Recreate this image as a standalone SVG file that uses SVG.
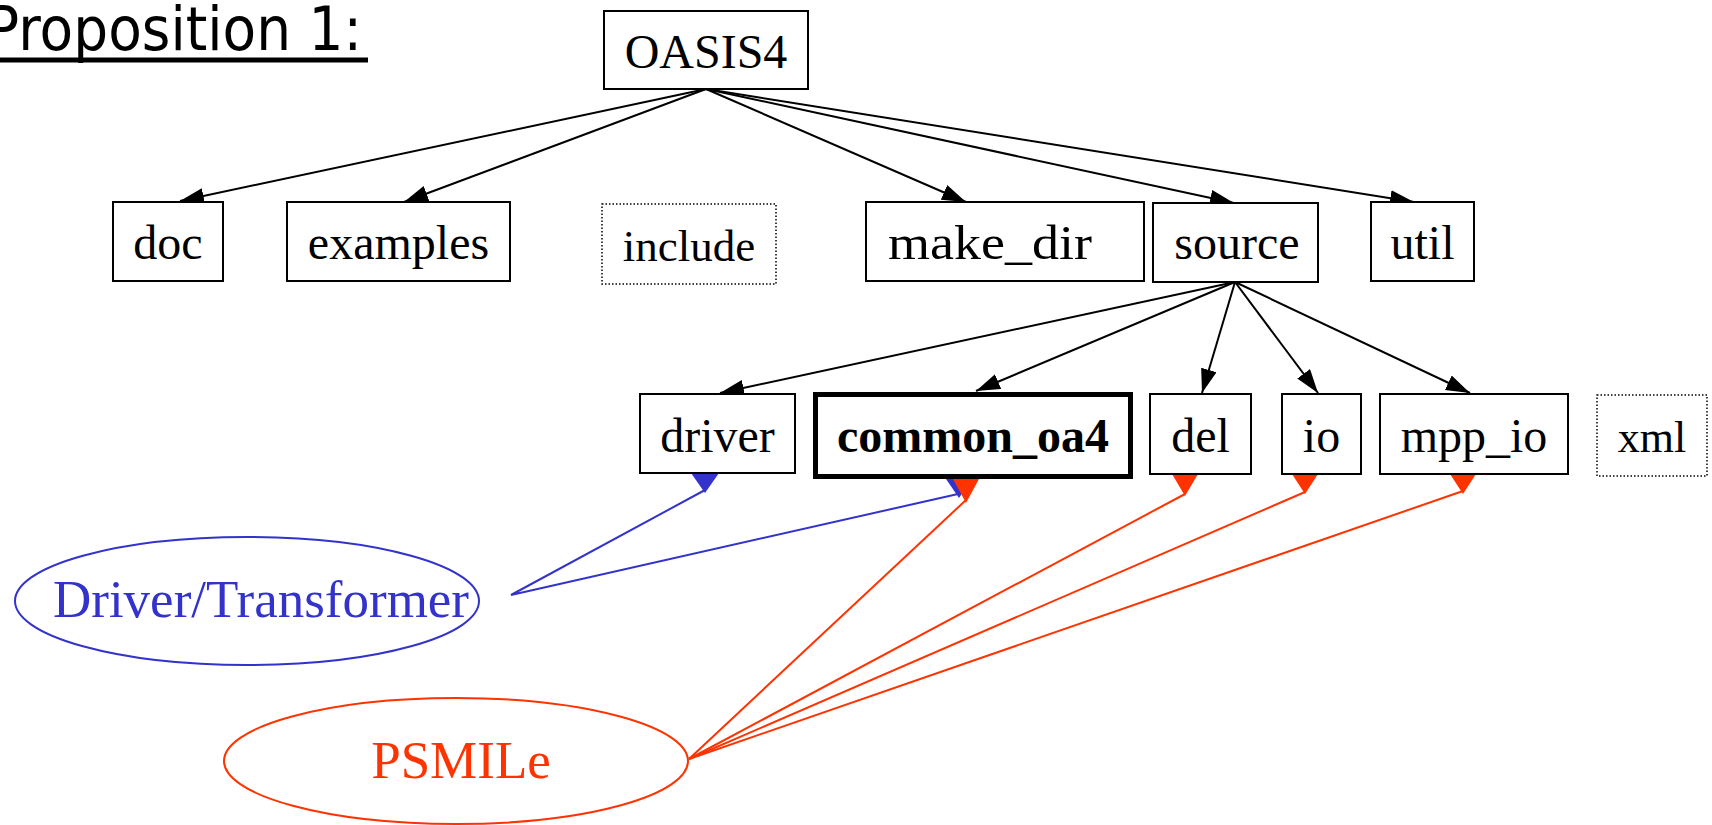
<svg xmlns="http://www.w3.org/2000/svg" width="1712" height="825" viewBox="0 0 1712 825">
<style>
  .box{fill:#fff;stroke:#000;stroke-width:2}
  .dot{fill:#fff;stroke:#000;stroke-width:1.5;stroke-dasharray:1.5 2}
  .lbl{font-family:"Liberation Serif","Times New Roman",serif;font-size:48px;fill:#000;text-anchor:middle}
  .blk{stroke:#000;stroke-width:2;fill:none}
  .blu{stroke:#3333cc;stroke-width:2;fill:none}
  .red{stroke:#ff3300;stroke-width:2;fill:none}
</style>
<defs>
  <marker id="ah" markerUnits="userSpaceOnUse" markerWidth="26" markerHeight="18" refX="24" refY="8" orient="auto">
    <path d="M0,0 L24,8 L0,16 z" fill="#000"/>
  </marker>
</defs>
<rect width="1712" height="825" fill="#fff"/>
<g id="title">
  <text x="-14" y="50" font-family="'DejaVu Sans',sans-serif" font-size="60" textLength="376" lengthAdjust="spacingAndGlyphs">Proposition 1:</text>
  <rect x="0" y="57.5" width="368" height="5" fill="#000"/>
</g>
<g id="connectors">
  <line class="blk" x1="706" y1="89" x2="180" y2="201" marker-end="url(#ah)"/>
  <line class="blk" x1="706" y1="89" x2="404" y2="202" marker-end="url(#ah)"/>
  <line class="blk" x1="706" y1="89" x2="966" y2="202" marker-end="url(#ah)"/>
  <line class="blk" x1="706" y1="89" x2="1234" y2="203" marker-end="url(#ah)"/>
  <line class="blk" x1="706" y1="89" x2="1414" y2="202" marker-end="url(#ah)"/>
  <line class="blk" x1="1235" y1="282" x2="720" y2="393" marker-end="url(#ah)"/>
  <line class="blk" x1="1235" y1="282" x2="976" y2="391" marker-end="url(#ah)"/>
  <line class="blk" x1="1235" y1="282" x2="1202" y2="393" marker-end="url(#ah)"/>
  <line class="blk" x1="1235" y1="282" x2="1318" y2="393" marker-end="url(#ah)"/>
  <line class="blk" x1="1235" y1="282" x2="1470" y2="393" marker-end="url(#ah)"/>
  <polyline class="blu" points="705,490 511,595 958,494"/>
  <path d="M691,473 L719,473 L705,493 z" fill="#3333cc"/>
  <path d="M946,479 L972,479 L959,498 z" fill="#3333cc"/>
  <line class="red" x1="689" y1="759" x2="966" y2="500"/>
  <line class="red" x1="689" y1="759" x2="1185" y2="494"/>
  <line class="red" x1="689" y1="759" x2="1305" y2="492"/>
  <line class="red" x1="689" y1="759" x2="1463" y2="491"/>
  <path d="M953,479 L979,479 L966,503 z" fill="#ff3300"/>
  <path d="M1172,474 L1198,474 L1185,496 z" fill="#ff3300"/>
  <path d="M1292,474 L1318,474 L1305,494 z" fill="#ff3300"/>
  <path d="M1450,474 L1476,474 L1463,494 z" fill="#ff3300"/>
</g>
<g id="OASIS4"><rect class="box" x="604" y="11" width="204" height="78"/><text class="lbl" x="706" y="68">OASIS4</text></g>
<g id="doc"><rect class="box" x="113" y="202" width="110" height="79"/><text class="lbl" x="168" y="259">doc</text></g>
<g id="examples"><rect class="box" x="287" y="202" width="223" height="79"/><text class="lbl" x="398.5" y="259">examples</text></g>
<g id="include"><rect class="dot" x="602" y="204" width="174" height="80"/><text class="lbl" x="689" y="261" style="font-size:45px">include</text></g>
<g id="make_dir"><rect class="box" x="866" y="202" width="278" height="79"/><text class="lbl" x="990" y="259" textLength="204" lengthAdjust="spacingAndGlyphs">make_dir</text></g>
<g id="source"><rect class="box" x="1153" y="203" width="165" height="79"/><text class="lbl" x="1237" y="259">source</text></g>
<g id="util"><rect class="box" x="1371" y="202" width="103" height="79"/><text class="lbl" x="1422.5" y="259">util</text></g>
<g id="driver"><rect class="box" x="640" y="394" width="155" height="79"/><text class="lbl" x="717.5" y="452">driver</text></g>
<g id="common_oa4"><rect x="815.5" y="394.5" width="315" height="82" fill="#fff" stroke="#000" stroke-width="5"/><text class="lbl" x="973" y="452" font-weight="bold">common_oa4</text></g>
<g id="del"><rect class="box" x="1150" y="394" width="101" height="80"/><text class="lbl" x="1200.5" y="452">del</text></g>
<g id="io"><rect class="box" x="1282" y="394" width="79" height="80"/><text class="lbl" x="1321.5" y="452">io</text></g>
<g id="mpp_io"><rect class="box" x="1380" y="394" width="188" height="80"/><text class="lbl" x="1474" y="452">mpp_io</text></g>
<g id="xml"><rect class="dot" x="1597" y="395" width="110" height="81"/><text class="lbl" x="1652" y="452" style="font-size:44px">xml</text></g>
<g id="driver_transformer"><ellipse cx="247" cy="601" rx="232" ry="64" fill="none" stroke="#3333cc" stroke-width="2"/><text class="lbl" x="261" y="617" style="font-size:53px;fill:#3333cc">Driver/Transformer</text></g>
<g id="psmile"><ellipse cx="456" cy="761" rx="232" ry="63" fill="none" stroke="#ff3300" stroke-width="2"/><text class="lbl" x="461" y="778" style="font-size:53px;fill:#ff3300">PSMILe</text></g>
</svg>
